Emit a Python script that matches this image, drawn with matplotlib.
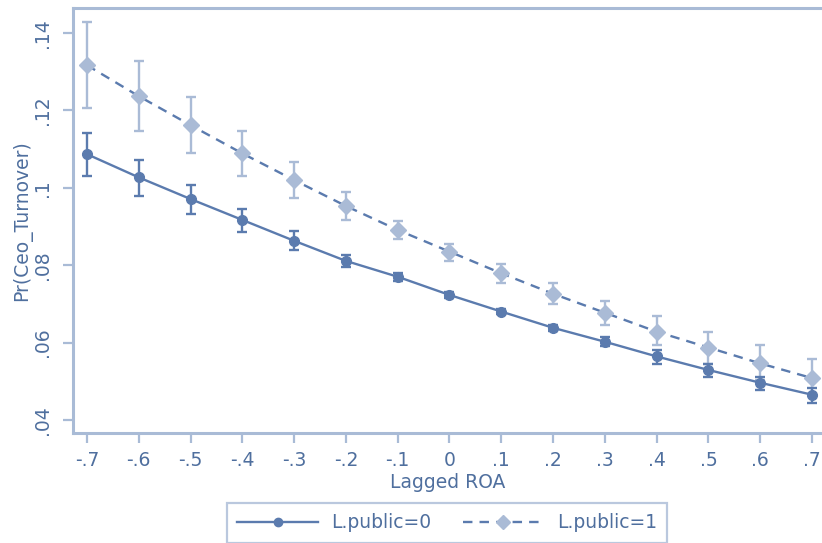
import matplotlib
matplotlib.use("Agg")
import matplotlib.pyplot as plt

# predictive margins, Pr(Ceo_Turnover) by lagged ROA
roa = [-0.7, -0.6, -0.5, -0.4, -0.3, -0.2, -0.1, 0.0, 0.1, 0.2, 0.3, 0.4, 0.5, 0.6, 0.7]
xtick_labels = ["-.7", "-.6", "-.5", "-.4", "-.3", "-.2", "-.1", "0",
                ".1", ".2", ".3", ".4", ".5", ".6", ".7"]
yticks = [0.04, 0.06, 0.08, 0.10, 0.12, 0.14]
ytick_labels = [".04", ".06", ".08", ".1", ".12", ".14"]

p0 = [0.1087, 0.1027, 0.0971, 0.0917, 0.0863, 0.0811, 0.0770, 0.0723,
      0.0680, 0.0638, 0.0602, 0.0564, 0.0529, 0.0496, 0.0465]
lo0 = [0.1031, 0.0979, 0.0932, 0.0885, 0.0839, 0.0796, 0.0759, 0.0715,
       0.0673, 0.0630, 0.0591, 0.0545, 0.0510, 0.0478, 0.0443]
hi0 = [0.1142, 0.1072, 0.1007, 0.0945, 0.0888, 0.0826, 0.0781, 0.0731,
       0.0687, 0.0646, 0.0613, 0.0581, 0.0545, 0.0510, 0.0483]

p1 = [0.1317, 0.1237, 0.1162, 0.1089, 0.1020, 0.0953, 0.0891, 0.0835,
      0.0779, 0.0726, 0.0677, 0.0628, 0.0587, 0.0546, 0.0508]
lo1 = [0.1206, 0.1147, 0.1089, 0.1031, 0.0974, 0.0917, 0.0867, 0.0812,
       0.0755, 0.0700, 0.0645, 0.0594, 0.0545, 0.0503, 0.0462]
hi1 = [0.1428, 0.1328, 0.1236, 0.1147, 0.1066, 0.0990, 0.0915, 0.0855,
       0.0802, 0.0755, 0.0708, 0.0669, 0.0628, 0.0594, 0.0557]

dark = "#5b7bae"
light = "#aabbd6"
axis_col = "#a9bbd6"
text_col = "#4f6f9e"
fs = 13.5

plt.rcParams["font.family"] = ["DejaVu Sans"]

fig = plt.figure(figsize=(8.22, 5.43), dpi=100)
ax = fig.add_axes([73 / 822, 1 - 433 / 543, 1 - 73 / 822, (433 - 8) / 543])

err0 = [[p - l for p, l in zip(p0, lo0)], [h - p for p, h in zip(p0, hi0)]]
err1 = [[p - l for p, l in zip(p1, lo1)], [h - p for p, h in zip(p1, hi1)]]

ax.errorbar(roa, p1, yerr=err1, fmt="none", ecolor=light, elinewidth=1.7,
            capsize=3.8, capthick=1.7, zorder=2)
ax.errorbar(roa, p0, yerr=err0, fmt="none", ecolor=dark, elinewidth=1.7,
            capsize=3.8, capthick=1.7, zorder=2)
ax.plot(roa, p1, color=dark, lw=1.7, ls=(0, (4, 3)), zorder=3)
ax.plot(roa, p1, ls="none", marker="D", ms=8, color=light, zorder=4)
ax.plot(roa, p0, color=dark, lw=1.7, marker="o", ms=7, zorder=4)

ax.set_xlim(-0.727, 0.7193)
ax.set_ylim(0.0366, 0.1465)
ax.set_xticks(roa)
ax.set_xticklabels(xtick_labels)
ax.set_yticks(yticks)
ax.set_yticklabels(ytick_labels, rotation=90, va="center")

for side in ["left", "bottom", "top"]:
    ax.spines[side].set_color(axis_col)
    ax.spines[side].set_linewidth(2.2)
ax.spines["right"].set_visible(False)
ax.tick_params(colors=axis_col, labelcolor=text_col, labelsize=fs,
               width=1.6, length=7)
ax.tick_params(axis="y", pad=8)
ax.tick_params(axis="x", pad=6)

ax.set_xlabel("Lagged ROA", fontsize=fs, color=text_col, labelpad=2)
ax.set_ylabel("Pr(Ceo_Turnover)", fontsize=fs, color=text_col, labelpad=1)

h0, = ax.plot([], [], color=dark, lw=1.7, marker="o", ms=6)
h1, = ax.plot([], [], color=dark, lw=1.7, ls=(0, (4, 3)), marker="D", ms=7,
              mfc=light, mec=light)
leg = fig.legend([h0, h1], ["L.public=0", "L.public=1"], ncol=2,
                 loc="upper left", bbox_to_anchor=(227 / 822, 1 - 503 / 543),
                 fontsize=fs, frameon=True, fancybox=False,
                 handlelength=4.3, handletextpad=0.7, columnspacing=1.7,
                 borderpad=0.55, borderaxespad=0, labelcolor=text_col)
leg.get_frame().set_edgecolor(axis_col)
leg.get_frame().set_linewidth(1.6)

fig.savefig("out.png", dpi=100)
